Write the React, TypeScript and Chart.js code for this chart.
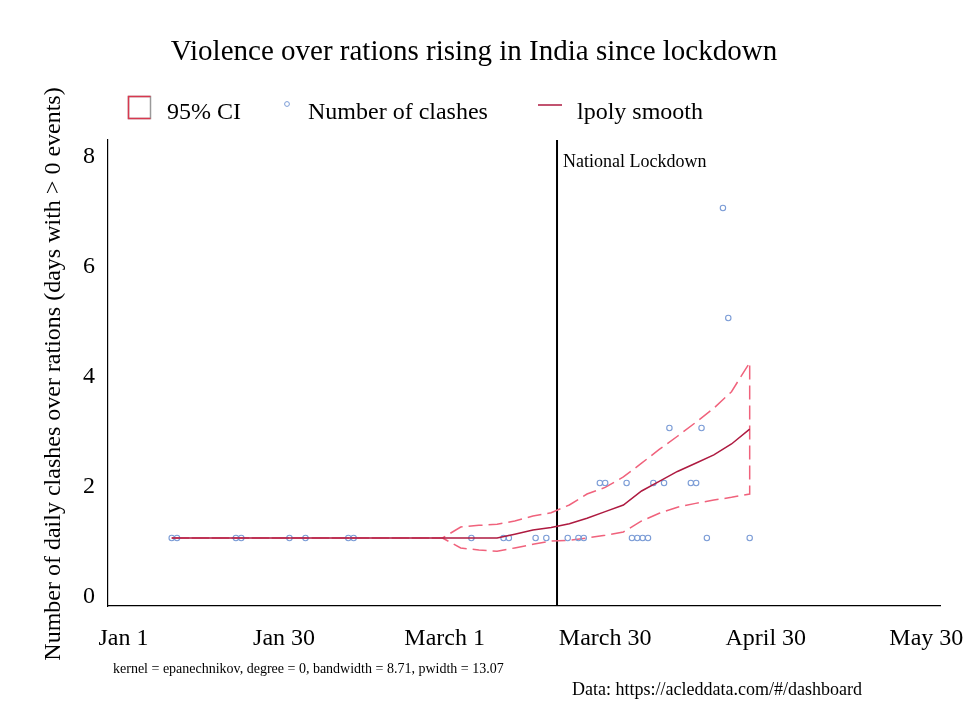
import React, { useEffect, useRef } from "react";
import { Chart, registerables } from "chart.js";

Chart.register(...registerables);

const FONT = '"Liberation Serif", "Times New Roman", Times, serif';

const title = "Violence over rations rising in India since lockdown";
const yTitle = "Number of daily clashes over rations (days with > 0 events)";
const note = "kernel = epanechnikov, degree = 0, bandwidth = 8.71, pwidth = 13.07";
const source = "Data: https://acleddata.com/#/dashboard";

// x values are days counted from Jan 1 (= 0)
const tickDays = [0, 30, 60, 90, 120, 150];
const tickLabels = ["Jan 1", "Jan 30", "March 1", "March 30", "April 30", "May 30"];
const yTicks = [0, 2, 4, 6, 8];

const lockdownDay = 81;
const lockdownLabel = "National Lockdown";

// days with at least one clash, and how many
const clashDays = [
  9, 10, 21, 22, 31, 34, 42, 43, 65, 71, 72, 77, 79, 83, 85, 86, 89, 90, 94, 95,
  96, 97, 98, 99, 101, 102, 106, 107, 108, 109, 112, 113, 117,
];
const clashCounts = [
  1, 1, 1, 1, 1, 1, 1, 1, 1, 1, 1, 1, 1, 1, 1, 1, 2, 2, 2, 1,
  1, 1, 1, 2, 2, 3, 2, 2, 3, 1, 7, 5, 1,
];

// lpoly smooth and its 95% CI at the smoothing grid
const gridDays = [
  9, 12.4, 15.8, 19.1, 22.5, 25.9, 29.3, 32.6, 36, 39.4, 42.8, 46.1, 49.5, 52.9,
  56.3, 59.6, 63, 66.4, 69.8, 73.1, 76.5, 79.9, 83.3, 86.6, 90, 93.4, 96.8,
  100.1, 103.5, 106.9, 110.3, 113.6, 117,
];
const smooth = [
  1, 1, 1, 1, 1, 1, 1, 1, 1, 1, 1, 1, 1, 1, 1, 1, 1, 1, 1, 1.07, 1.145, 1.19,
  1.26, 1.36, 1.48, 1.6, 1.855, 2.03, 2.21, 2.36, 2.51, 2.71, 2.98,
];
const ciUpper = [
  1, 1, 1, 1, 1, 1, 1, 1, 1, 1, 1, 1, 1, 1, 1, 1, 1.2, 1.23, 1.25, 1.31, 1.4,
  1.46, 1.6, 1.8, 1.92, 2.11, 2.36, 2.61, 2.85, 3.1, 3.36, 3.66, 4.19,
];
const ciLower = [
  1, 1, 1, 1, 1, 1, 1, 1, 1, 1, 1, 1, 1, 1, 1, 1, 0.82, 0.78, 0.76, 0.82,
  0.885, 0.945, 0.96, 1.0, 1.05, 1.11, 1.31, 1.45, 1.56, 1.63, 1.69, 1.74, 1.8,
];

const CI_COLOR = "#f0627c";
const LINE_COLOR = "#ae1a40";
const POINT_COLOR = "#7b9cd6";

const decor = {
  id: "decor",
  beforeDatasetsDraw(chart: any) {
    const { ctx, chartArea, scales } = chart;
    const x = scales.x.getPixelForValue(lockdownDay);
    ctx.save();
    ctx.strokeStyle = "#000";
    ctx.lineWidth = 2;
    ctx.beginPath();
    ctx.moveTo(x, chartArea.top);
    ctx.lineTo(x, chartArea.bottom);
    ctx.stroke();
    ctx.restore();
  },
  afterDraw(chart: any) {
    const { ctx, scales } = chart;
    ctx.save();
    ctx.fillStyle = "#000";
    ctx.textBaseline = "alphabetic";

    ctx.font = `29px ${FONT}`;
    ctx.textAlign = "center";
    ctx.fillText(title, 474, 60);

    // legend
    ctx.font = `24px ${FONT}`;
    ctx.textAlign = "left";
    ctx.lineWidth = 1.5;
    ctx.strokeStyle = "#9a9a9a";
    ctx.strokeRect(128.5, 96.5, 22, 22);
    ctx.strokeStyle = "#d8384f";
    ctx.beginPath();
    ctx.moveTo(150.5, 96.5);
    ctx.lineTo(128.5, 96.5);
    ctx.lineTo(128.5, 118.5);
    ctx.lineTo(150.5, 118.5);
    ctx.stroke();
    ctx.fillText("95% CI", 167, 119);

    ctx.strokeStyle = POINT_COLOR;
    ctx.lineWidth = 1;
    ctx.beginPath();
    ctx.arc(287, 104, 2.4, 0, Math.PI * 2);
    ctx.stroke();
    ctx.fillText("Number of clashes", 308, 119);

    ctx.strokeStyle = LINE_COLOR;
    ctx.lineWidth = 1.5;
    ctx.beginPath();
    ctx.moveTo(538, 105);
    ctx.lineTo(562, 105);
    ctx.stroke();
    ctx.fillText("lpoly smooth", 577, 119);

    // y axis title
    ctx.save();
    ctx.translate(60, 374);
    ctx.rotate(-Math.PI / 2);
    ctx.textAlign = "center";
    ctx.fillText(yTitle, 0, 0);
    ctx.restore();

    // lockdown label
    ctx.font = `18px ${FONT}`;
    ctx.fillText(lockdownLabel, scales.x.getPixelForValue(lockdownDay) + 6, 167);

    // notes
    ctx.font = `14px ${FONT}`;
    ctx.fillText(note, 113, 673);
    ctx.font = `18px ${FONT}`;
    ctx.fillText(source, 572, 695);
    ctx.restore();
  },
};

const App: React.FC = () => {
  const canvasRef = useRef<HTMLCanvasElement>(null);

  useEffect(() => {
    document.body.style.margin = "0";
    if (!canvasRef.current) return;
    const ctx = canvasRef.current.getContext("2d")!;

    const ciOutline = gridDays
      .map((d, i) => ({ x: d, y: ciUpper[i] }))
      .concat(gridDays.map((d, i) => ({ x: d, y: ciLower[i] })).reverse());

    const chart = new Chart(ctx, {
      type: "scatter",
      data: {
        datasets: [
          {
            label: "lpoly smooth",
            data: gridDays.map((d, i) => ({ x: d, y: smooth[i] })),
            showLine: true,
            borderColor: LINE_COLOR,
            borderWidth: 1.5,
            pointRadius: 0,
            tension: 0,
            order: 0,
          },
          {
            label: "Number of clashes",
            data: clashDays.map((d, i) => ({ x: d, y: clashCounts[i] })),
            pointStyle: "circle",
            pointRadius: 2.7,
            borderWidth: 1.1,
            borderColor: POINT_COLOR,
            backgroundColor: "rgba(0,0,0,0)",
            order: 1,
          },
          {
            label: "95% CI",
            data: ciOutline,
            showLine: true,
            borderColor: CI_COLOR,
            borderWidth: 1.5,
            borderDash: [14, 6],
            pointRadius: 0,
            tension: 0,
            fill: false,
            order: 2,
          },
        ],
      },
      options: {
        animation: false,
        responsive: true,
        maintainAspectRatio: false,
        events: [],
        layout: { padding: { top: 140, right: 28, left: 0, bottom: 0 } },
        plugins: {
          legend: { display: false },
          title: { display: false },
          tooltip: { enabled: false },
        },
        scales: {
          x: {
            type: "linear",
            min: -2.9,
            max: 152.56,
            grid: { display: false, drawTicks: false },
            border: { display: true, color: "#000", width: 1.2 },
            afterBuildTicks: (scale: any) => {
              scale.ticks = tickDays.map((v) => ({ value: v }));
            },
            afterFit: (scale: any) => {
              scale.height = 98;
              scale.paddingLeft = 0;
              scale.paddingRight = 0;
            },
            ticks: {
              autoSkip: false,
              maxRotation: 0,
              minRotation: 0,
              padding: 18,
              color: "#000",
              font: { family: FONT, size: 24 },
              callback: (value: any) => tickLabels[tickDays.indexOf(Number(value))] ?? "",
            },
          },
          y: {
            type: "linear",
            min: -0.236,
            max: 8.236,
            grid: { display: false, drawTicks: false },
            border: { display: true, color: "#000", width: 1.2 },
            afterBuildTicks: (scale: any) => {
              scale.ticks = yTicks.map((v) => ({ value: v }));
            },
            afterFit: (scale: any) => {
              scale.width = 108;
              scale.paddingTop = 0;
              scale.paddingBottom = 0;
            },
            ticks: {
              padding: 13,
              labelOffset: 4,
              color: "#000",
              font: { family: FONT, size: 24 },
              callback: (value: any) => String(value),
            },
          },
        },
      },
      plugins: [decor],
    });

    return () => {
      chart.destroy();
    };
  }, []);

  return (
    <div style={{ width: 968, height: 704, background: "#fff" }}>
      <canvas ref={canvasRef} />
    </div>
  );
};

export default App;
